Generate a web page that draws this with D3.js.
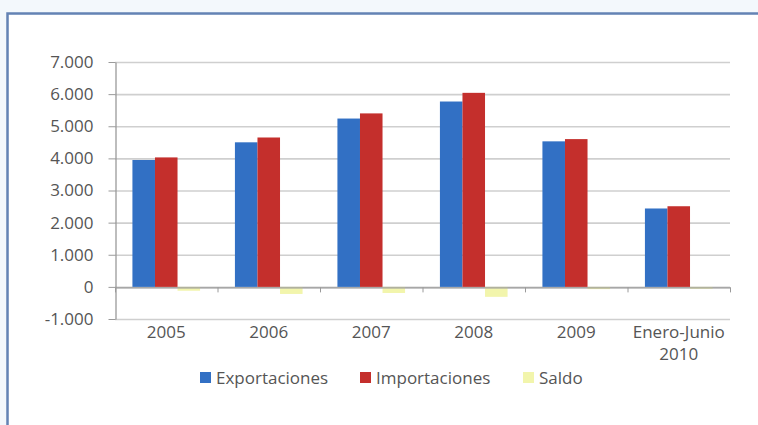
<!DOCTYPE html>
<html>
<head>
<meta charset="utf-8">
<script src="https://cdn.jsdelivr.net/npm/d3@7"></script>
<style>
  html, body { margin: 0; padding: 0; background: #f3f8fc; overflow: hidden; }
  svg { display: block; }
  text { font-family: 'Open Sans', sans-serif; fill: #555; }
</style>
</head>
<body>
<div id="chart"></div>
<script>
// values (millones)
const categories = ['2005', '2006', '2007', '2008', '2009', 'Enero-Junio 2010'];
const categoryLines = [['2005'], ['2006'], ['2007'], ['2008'], ['2009'], ['Enero-Junio', '2010']];
const seriesNames = ['Exportaciones', 'Importaciones', 'Saldo'];
const exportaciones = [3950, 4500, 5240, 5770, 4530, 2440];
const importaciones = [4030, 4650, 5400, 6040, 4600, 2510];
const saldo = [-120, -220, -190, -310, -70, -60];
const yTicks = [-1000, 0, 1000, 2000, 3000, 4000, 5000, 6000, 7000];

const width = 758;
const height = 425;
const plot = { left: 115, right: 730, top: 62, bottom: 319 };
const colors = ['#3270c4', '#c42f2c', '#f2f5ac'];

const svg = d3.select('#chart')
  .append('svg')
  .attr('width', width)
  .attr('height', height);

// chart frame (cut off at the right and bottom)
svg.append('path')
  .attr('d', `M${width + 5},13.5 H7.5 V${height + 5}`)
  .attr('fill', 'none')
  .attr('stroke', '#6483b4')
  .attr('stroke-width', 2.5);
svg.append('rect')
  .attr('x', 9)
  .attr('y', 15)
  .attr('width', width)
  .attr('height', height)
  .attr('fill', '#fff');

// scales
const x0 = d3.scaleBand()
  .domain(categories)
  .range([plot.left, plot.right])
  .paddingInner(0.34)
  .paddingOuter(0.17);

const x1 = d3.scaleBand()
  .domain(seriesNames)
  .range([0, x0.bandwidth()]);

const y = d3.scaleLinear()
  .domain([-1000, 7000])
  .range([plot.bottom, plot.top]);

const color = d3.scaleOrdinal(seriesNames, colors);

const es = d3.formatLocale({ decimal: ',', thousands: '.', grouping: [3], currency: ['', ''], minus: '-' });
const fmt = es.format(',');

// gridlines
svg.append('g')
  .selectAll('line')
  .data(yTicks)
  .join('line')
  .attr('x1', plot.left)
  .attr('x2', plot.right)
  .attr('y1', (d) => y(d) + 0.5)
  .attr('y2', (d) => y(d) + 0.5)
  .attr('stroke', '#cfcfcf')
  .attr('stroke-width', 1.6);

// y axis
const yAxis = svg.append('g')
  .attr('transform', `translate(${plot.left + 0.5},0)`)
  .call(d3.axisLeft(y).tickValues(yTicks).tickFormat(fmt).tickSize(7).tickSizeOuter(0).tickPadding(15));
yAxis.select('.domain').attr('stroke', '#9a9a9a').attr('stroke-width', 1.3);
yAxis.selectAll('.tick line').attr('stroke', '#9a9a9a');
yAxis.selectAll('text')
  .attr('fill', '#555')
  .style('font-size', '17px')
  .style('font-family', "'Open Sans', sans-serif");

// bars
const rows = categories.map((c, i) => ({
  cat: c,
  values: [exportaciones[i], importaciones[i], saldo[i]],
}));

const groups = svg.append('g')
  .selectAll('g')
  .data(rows)
  .join('g')
  .attr('transform', (d) => `translate(${x0(d.cat)},0)`);

groups.selectAll('rect')
  .data((d) => d.values.map((v, j) => ({ key: seriesNames[j], value: v })))
  .join('rect')
  .attr('x', (d) => x1(d.key))
  .attr('width', x1.bandwidth())
  .attr('y', (d) => y(Math.max(0, d.value)))
  .attr('height', (d) => Math.abs(y(d.value) - y(0)))
  .attr('fill', (d) => color(d.key));

// zero line with category boundary ticks
const bounds = d3.scaleLinear().domain([0, categories.length]).range([plot.left, plot.right]);
const zeroAxis = svg.append('g')
  .attr('transform', `translate(0,${y(0) + 0.5})`)
  .call(d3.axisBottom(bounds).tickValues(d3.range(categories.length + 1)).tickFormat('').tickSize(5).tickSizeOuter(0));
zeroAxis.select('.domain').attr('stroke', '#9a9a9a').attr('stroke-width', 1.3);
zeroAxis.selectAll('.tick line').attr('stroke', '#9a9a9a');

// category labels (last one wraps on two lines)
const xAxis = svg.append('g')
  .attr('transform', `translate(0,${plot.bottom})`)
  .call(d3.axisBottom(x0).tickSize(0).tickPadding(7).tickFormat(''));
xAxis.select('.domain').remove();
xAxis.selectAll('.tick text')
  .attr('fill', '#555')
  .style('font-size', '17px')
  .style('font-family', "'Open Sans', sans-serif")
  .each(function (d) {
    const lines = categoryLines[categories.indexOf(d)];
    const t = d3.select(this);
    lines.forEach((l, k) => {
      t.append('tspan')
        .attr('x', 0)
        .attr('dy', k === 0 ? '0.71em' : '1.3em')
        .text(l);
    });
  });

// legend
const legendX = [200, 360, 523];
const legend = svg.append('g').attr('transform', 'translate(0,378)');
seriesNames.forEach((name, i) => {
  legend.append('rect')
    .attr('x', legendX[i])
    .attr('y', -6)
    .attr('width', 11)
    .attr('height', 11)
    .attr('fill', color(name));
  legend.append('text')
    .attr('x', legendX[i] + 16)
    .attr('y', 0)
    .attr('dy', '0.35em')
    .style('font-size', '17px')
    .text(name);
});
</script>
</body>
</html>
